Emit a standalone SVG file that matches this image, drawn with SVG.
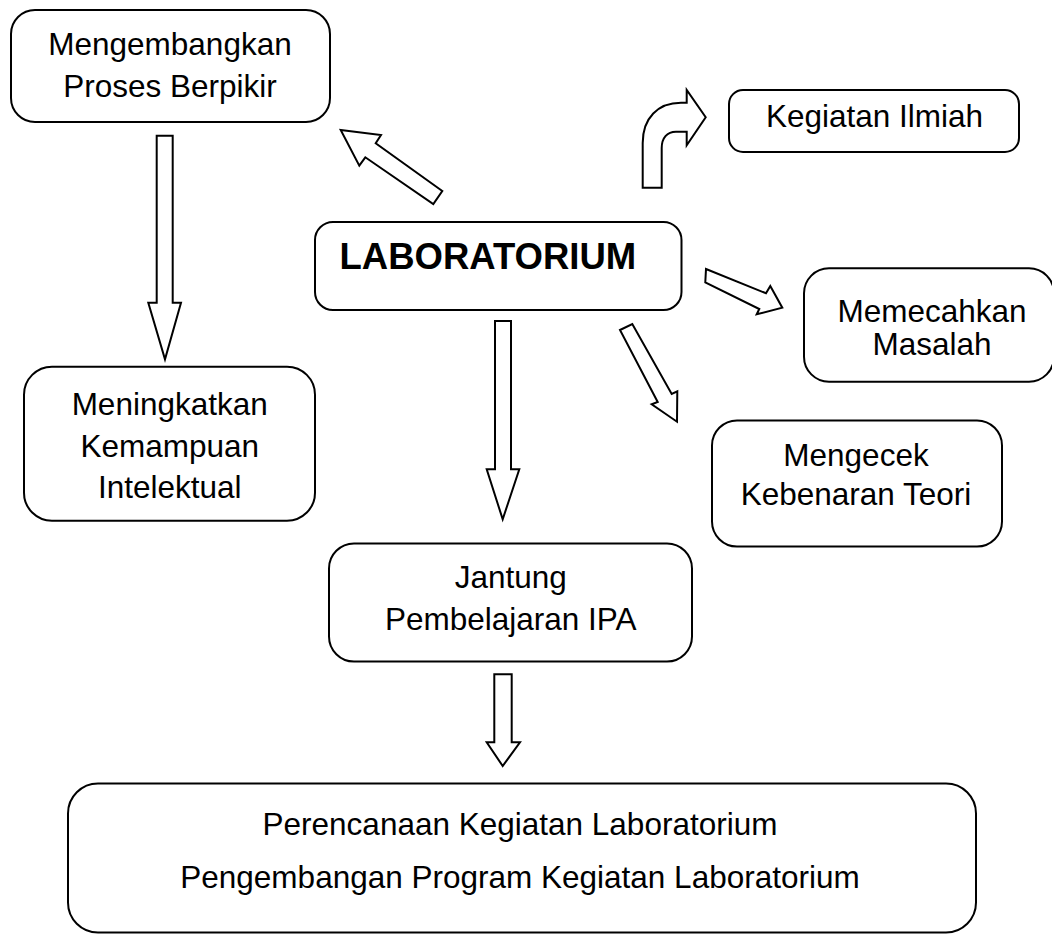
<svg xmlns="http://www.w3.org/2000/svg" width="1052" height="935" viewBox="0 0 1052 935">
<style>
.box{fill:#fff;stroke:#000;stroke-width:2}
.arr{fill:#fff;stroke:#000;stroke-width:2;stroke-linejoin:miter}
text{font-family:"Liberation Sans",Arial,sans-serif;font-size:31.5px;fill:#000;text-anchor:middle}
.bold{font-weight:bold;font-size:36.5px;text-anchor:start}
</style>
<rect width="1052" height="935" fill="#fff"/>
<g id="connectors">
<polygon class="arr" points="442.3,191 375.7,143.3 381,135 340.7,130 359.3,165.7 365.3,157.3 433.3,204"/>
<path class="arr" d="M642.7,187.7 L642.7,143 C642.7,118 658,102.7 681,102.7 L686.7,102.7 L686.7,90 L705.7,117.3 L686.7,145.3 L686.7,131.7 L676,131.7 C667,131.7 661.7,138 661.7,148 L661.7,187.7 Z"/>
<polygon class="arr" points="156.7,135.7 172.7,135.7 172.7,302.7 181,302.7 165,359.3 148.3,302.7 156.7,302.7"/>
<polygon class="arr" points="495,321 511,321 511,469.3 519.3,469.3 502.7,519.3 486.7,469.3 495,469.3"/>
<polygon class="arr" points="494.3,674.3 511.7,674.3 511.7,742.3 520,742.3 502.7,766 486.7,742.3 494.3,742.3"/>
<polygon class="arr" points="706,269 766,293.3 770.3,286 782.3,307.7 756.7,314.3 759.3,309 705.3,282.3"/>
<polygon class="arr" points="620,330 632.3,324 671.7,394 677.3,391.3 677,421.7 651.7,404.3 657.7,402"/>
</g>
<g id="node-mengembangkan">
<rect class="box" x="11" y="10" width="319" height="112" rx="24"/>
<text x="170" y="55">Mengembangkan</text>
<text x="170" y="96.7">Proses Berpikir</text>
</g>
<g id="node-kegiatan-ilmiah">
<rect class="box" x="729" y="90" width="290" height="62" rx="14"/>
<text x="874.5" y="126.7">Kegiatan Ilmiah</text>
</g>
<g id="node-laboratorium">
<rect class="box" x="315" y="222" width="366.5" height="88" rx="18"/>
<text class="bold" x="339.5" y="269.3">LABORATORIUM</text>
</g>
<g id="node-memecahkan">
<rect class="box" x="804" y="268.3" width="250" height="113.4" rx="25"/>
<text x="932" y="321.7">Memecahkan</text>
<text x="932" y="355">Masalah</text>
</g>
<g id="node-meningkatkan">
<rect class="box" x="24" y="366.7" width="291" height="154" rx="28"/>
<text x="169.7" y="415">Meningkatkan</text>
<text x="169.7" y="456.7">Kemampuan</text>
<text x="169.7" y="498.3">Intelektual</text>
</g>
<g id="node-mengecek">
<rect class="box" x="712" y="420.5" width="290" height="126" rx="25"/>
<text x="856" y="466">Mengecek</text>
<text x="856" y="504.5">Kebenaran Teori</text>
</g>
<g id="node-jantung">
<rect class="box" x="329" y="543.5" width="363" height="118" rx="25"/>
<text x="510.7" y="588.3">Jantung</text>
<text x="510.7" y="630">Pembelajaran IPA</text>
</g>
<g id="node-perencanaan">
<rect class="box" x="68" y="783.5" width="908" height="149" rx="30"/>
<text x="520" y="835">Perencanaan Kegiatan Laboratorium</text>
<text x="520" y="888.3">Pengembangan Program Kegiatan Laboratorium</text>
</g>
</svg>
